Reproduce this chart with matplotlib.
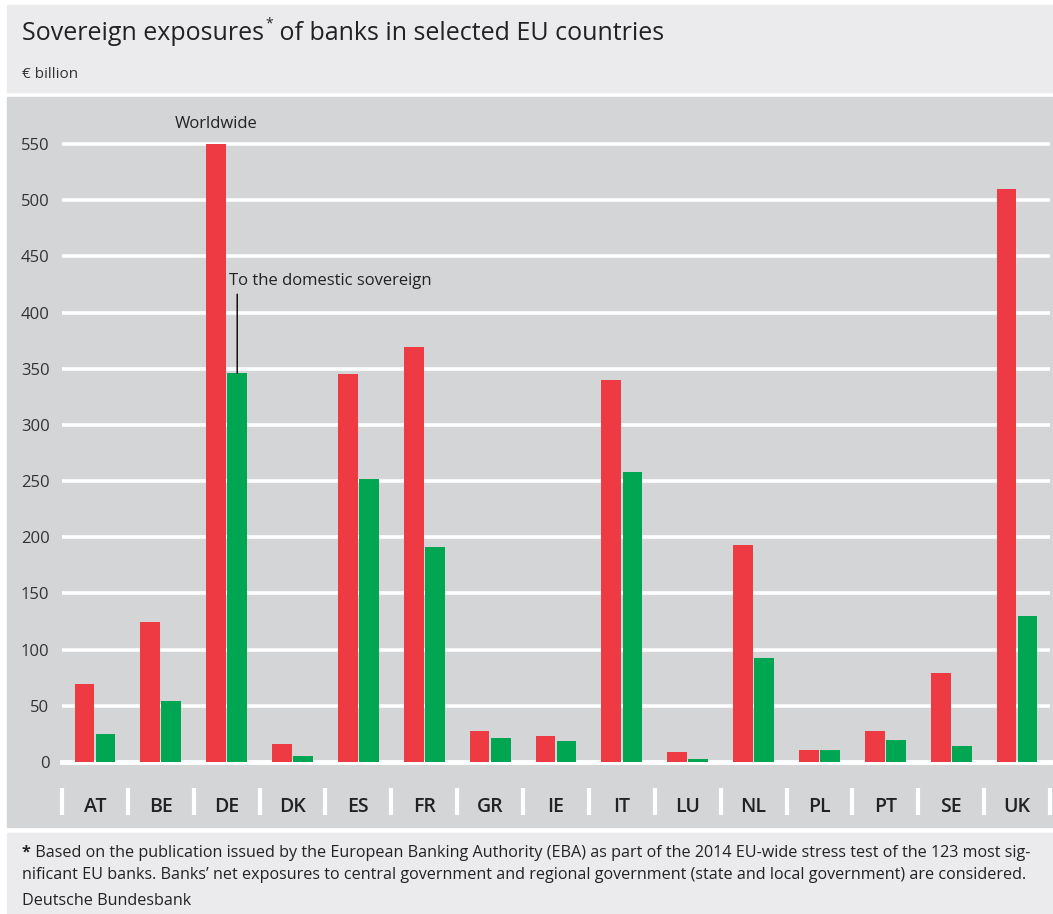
import numpy as np
import matplotlib.pyplot as plt
from matplotlib.patches import Rectangle

countries = ['AT', 'BE', 'DE', 'DK', 'ES', 'FR', 'GR', 'IE', 'IT', 'LU', 'NL', 'PL', 'PT', 'SE', 'UK']
worldwide = [69, 125, 550, 16, 345, 369, 28, 23, 340, 9, 193, 11, 28, 79, 510]
domestic = [25, 54, 346, 5, 252, 191, 21, 19, 258, 3, 93, 11, 20, 14, 130]
yticks = list(range(0, 551, 50))

RED = '#ee3a43'
GREEN = '#00a651'
PANEL = '#d4d5d7'
LIGHT = '#ebebed'
TXT = '#222222'

plt.rcParams['font.family'] = ['Open Sans', 'DejaVu Sans']

W, H = 1053, 914
fig = plt.figure(figsize=(W / 100, H / 100), dpi=100)
fig.patch.set_facecolor('white')


def px_rect(x0, y0, x1, y1, color):
    fig.add_artist(Rectangle((x0 / W, 1 - y1 / H), (x1 - x0) / W, (y1 - y0) / H,
                             transform=fig.transFigure, color=color, zorder=-5))


# background panels
px_rect(7, 5, W, 92, LIGHT)
px_rect(7, 97, W, 827, PANEL)
px_rect(7, 833, W, H, LIGHT)

# axes: zero line at y=762 px, top of panel at 97 px
y0_px, top_px = 762, 97
ax = fig.add_axes([62 / W, 1 - y0_px / H, (1050 - 62) / W, (y0_px - top_px) / H])
ax.patch.set_visible(False)
for s in ax.spines.values():
    s.set_visible(False)

ppu = (y0_px - 144) / 550.0
ax.set_ylim(0, (y0_px - top_px) / ppu)
ax.set_xlim(-0.5, len(countries) - 0.5)

x = np.arange(len(countries))
ax.hlines(yticks[1:], -0.5, len(countries) - 0.5, color='white', lw=2.6, zorder=1)
ax.axhline(0, color='white', lw=3.5, zorder=1.5, clip_on=False)
ax.bar(x - 0.16, worldwide, 0.30, color=RED, lw=0, zorder=2)
ax.bar(x + 0.16, domestic, 0.30, color=GREEN, lw=0, zorder=2)

ax.set_yticks(yticks)
ax.set_yticklabels([str(v) for v in yticks], fontsize=12, color='#333333')
ax.tick_params(axis='y', length=0, pad=9)
ax.set_xticks(x)
ax.set_xticklabels(countries, fontsize=14, fontweight='semibold', color=TXT)
ax.tick_params(axis='x', length=0, pad=25)

# category separators below the axis
sep_tr = ax.get_xaxis_transform()
ax.vlines(np.arange(-0.5, len(countries)), -26 / (y0_px - top_px), -53 / (y0_px - top_px),
          transform=sep_tr, color='white', lw=3, clip_on=False)

# annotations
de = countries.index('DE')
ax.annotate('Worldwide', xy=(x[de] - 0.16, worldwide[de]), xytext=(0, 12),
            textcoords='offset pixels', ha='center', va='bottom', fontsize=12, color=TXT)
ax.annotate('', xy=(x[de] + 0.16, domestic[de]), xytext=(0, 79), textcoords='offset pixels',
            arrowprops=dict(arrowstyle='-', color='black', lw=1, shrinkA=0, shrinkB=0))
ax.annotate('To the domestic sovereign', xy=(x[de] + 0.16, domestic[de]), xytext=(-8, 88),
            textcoords='offset pixels', ha='left', va='baseline', fontsize=12, color=TXT)

# title with superscript asterisk
fig.canvas.draw()
r = fig.canvas.get_renderer()
t1 = fig.text(22 / W, 1 - 40 / H, 'Sovereign exposures', fontsize=18, color=TXT, va='baseline')
bb = t1.get_window_extent(r)
t2 = fig.text(bb.x1 / W + 1 / W, 1 - 27 / H, '*', fontsize=10, color=TXT, va='baseline')
bb2 = t2.get_window_extent(r)
fig.text(bb2.x1 / W, 1 - 40 / H, ' of banks in selected EU countries', fontsize=18,
         color=TXT, va='baseline')
fig.text(22 / W, 1 - 78 / H, '€ billion', fontsize=11, color='#333333', va='baseline')

# footnote
fs = 11.6
f1 = fig.text(22 / W, 1 - 857 / H, '*', fontsize=fs, fontweight='bold', color=TXT, va='baseline')
b = f1.get_window_extent(r)
fig.text(b.x1 / W, 1 - 857 / H,
         ' Based on the publication issued by the European Banking Authority (EBA) as part of '
         'the 2014 EU-wide stress test of the 123 most sig-',
         fontsize=fs, color=TXT, va='baseline')
fig.text(22 / W, 1 - 879 / H,
         'nificant EU banks. Banks\u2019 net exposures to central government and regional '
         'government (state and local government) are considered.',
         fontsize=fs, color=TXT, va='baseline')
fig.text(22 / W, 1 - 905 / H, 'Deutsche Bundesbank', fontsize=fs, color=TXT, va='baseline')

fig.savefig('out.png', dpi=100, facecolor='white')
